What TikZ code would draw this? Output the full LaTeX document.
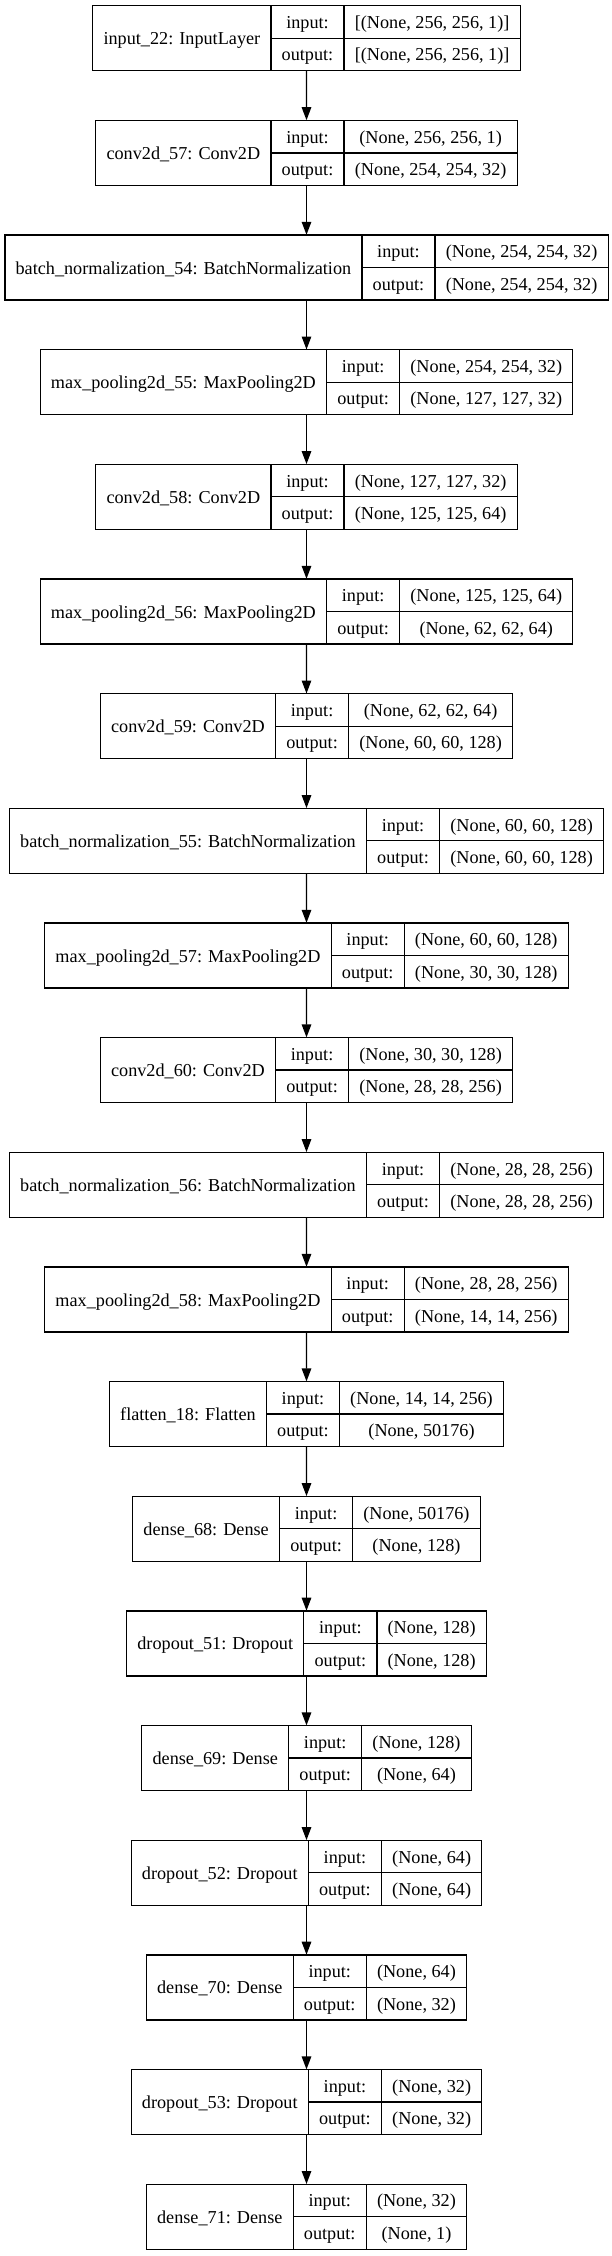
\documentclass[tikz,border=0pt]{standalone}
\usepackage{fontspec}
\setmainfont{Liberation Serif}
\usetikzlibrary{arrows.meta, positioning, fit}

\newcommand{\lfont}{\fontsize{18.2}{21}\selectfont}
\newlength{\wname}\newlength{\wlab}\newlength{\wval}\newlength{\wtmp}\newlength{\wscr}
\newcommand{\cpad}{21.5pt}
\newcommand{\xmid}{306.5pt}

% width of a text in the label font, also inside the picture
\newcommand{\getwidth}[2]{%
  \pgfinterruptpicture\setbox0\hbox{\lfont #2}\global\wscr=\wd0 \endpgfinterruptpicture
  \setlength{#1}{\wscr}}

% one layer box: id, name, input shape, output shape, top edge (px)
\newcommand{\layer}[5]{%
  \getwidth{\wname}{#2}\addtolength{\wname}{\cpad}%
  \getwidth{\wlab}{output:}\addtolength{\wlab}{\cpad}%
  \getwidth{\wval}{#3}\getwidth{\wtmp}{#4}%
  \ifdim\wtmp>\wval \setlength{\wval}{\wtmp}\fi
  \addtolength{\wval}{\cpad}%
  \pgfmathsetlengthmacro{\xl}{\xmid-0.5*(\wname+\wlab+\wval)}%
  \node[namecell, minimum width=\wname, anchor=north west] (#1-name) at (\xl,#5) {#2};
  \node[cell, minimum width=\wlab, anchor=north west] (#1-inl) at (#1-name.north east) {input:};
  \node[cell, minimum width=\wlab, below=0pt of #1-inl] (#1-outl) {output:};
  \node[cell, minimum width=\wval, right=0pt of #1-inl] (#1-inv) {#3};
  \node[cell, minimum width=\wval, right=0pt of #1-outl] (#1-outv) {#4};
  \node[fit=(#1-name)(#1-outv), inner sep=0pt] (#1) {};
}

\begin{document}
\begin{tikzpicture}[
  x=1pt, y=-1pt,
  cell/.style={draw=black, line width=1.3pt, outer sep=0pt, inner sep=0pt,
               minimum height=32.5pt, text height=15pt, text depth=2pt,
               font=\lfont},
  namecell/.style={cell, minimum height=65pt},
  arr/.style={-{Triangle[length=13pt, width=9.5pt]}, line width=1.3pt}
]
\path[use as bounding box, fill=white] (0,0) rectangle (612,2256);

% ---- convolutional part ----
\layer{in22}{input\_22: InputLayer}{[(None, 256, 256, 1)]}{[(None, 256, 256, 1)]}{5.7}
\layer{conv57}{conv2d\_57: Conv2D}{(None, 256, 256, 1)}{(None, 254, 254, 32)}{120.4}
\layer{bn54}{batch\_normalization\_54: BatchNormalization}{(None, 254, 254, 32)}{(None, 254, 254, 32)}{235.0}
\layer{mp55}{max\_pooling2d\_55: MaxPooling2D}{(None, 254, 254, 32)}{(None, 127, 127, 32)}{349.7}
\layer{conv58}{conv2d\_58: Conv2D}{(None, 127, 127, 32)}{(None, 125, 125, 64)}{464.3}
\layer{mp56}{max\_pooling2d\_56: MaxPooling2D}{(None, 125, 125, 64)}{(None, 62, 62, 64)}{579.0}
\layer{conv59}{conv2d\_59: Conv2D}{(None, 62, 62, 64)}{(None, 60, 60, 128)}{693.7}
\layer{bn55}{batch\_normalization\_55: BatchNormalization}{(None, 60, 60, 128)}{(None, 60, 60, 128)}{808.3}
\layer{mp57}{max\_pooling2d\_57: MaxPooling2D}{(None, 60, 60, 128)}{(None, 30, 30, 128)}{923.0}
\layer{conv60}{conv2d\_60: Conv2D}{(None, 30, 30, 128)}{(None, 28, 28, 256)}{1037.6}
\layer{bn56}{batch\_normalization\_56: BatchNormalization}{(None, 28, 28, 256)}{(None, 28, 28, 256)}{1152.3}
\layer{mp58}{max\_pooling2d\_58: MaxPooling2D}{(None, 28, 28, 256)}{(None, 14, 14, 256)}{1267.0}

% ---- dense part ----
\layer{flat18}{flatten\_18: Flatten}{(None, 14, 14, 256)}{(None, 50176)}{1381.6}
\layer{dense68}{dense\_68: Dense}{(None, 50176)}{(None, 128)}{1496.3}
\layer{drop51}{dropout\_51: Dropout}{(None, 128)}{(None, 128)}{1610.9}
\layer{dense69}{dense\_69: Dense}{(None, 128)}{(None, 64)}{1725.6}
\layer{drop52}{dropout\_52: Dropout}{(None, 64)}{(None, 64)}{1840.3}
\layer{dense70}{dense\_70: Dense}{(None, 64)}{(None, 32)}{1954.9}
\layer{drop53}{dropout\_53: Dropout}{(None, 32)}{(None, 32)}{2069.6}
\layer{dense71}{dense\_71: Dense}{(None, 32)}{(None, 1)}{2184.2}

\draw[arr] (in22)   -- (conv57);
\draw[arr] (conv57) -- (bn54);
\draw[arr] (bn54)   -- (mp55);
\draw[arr] (mp55)   -- (conv58);
\draw[arr] (conv58) -- (mp56);
\draw[arr] (mp56)   -- (conv59);
\draw[arr] (conv59) -- (bn55);
\draw[arr] (bn55)   -- (mp57);
\draw[arr] (mp57)   -- (conv60);
\draw[arr] (conv60) -- (bn56);
\draw[arr] (bn56)   -- (mp58);
\draw[arr] (mp58)   -- (flat18);
\draw[arr] (flat18) -- (dense68);
\draw[arr] (dense68)-- (drop51);
\draw[arr] (drop51) -- (dense69);
\draw[arr] (dense69)-- (drop52);
\draw[arr] (drop52) -- (dense70);
\draw[arr] (dense70)-- (drop53);
\draw[arr] (drop53) -- (dense71);

\end{tikzpicture}
\end{document}
